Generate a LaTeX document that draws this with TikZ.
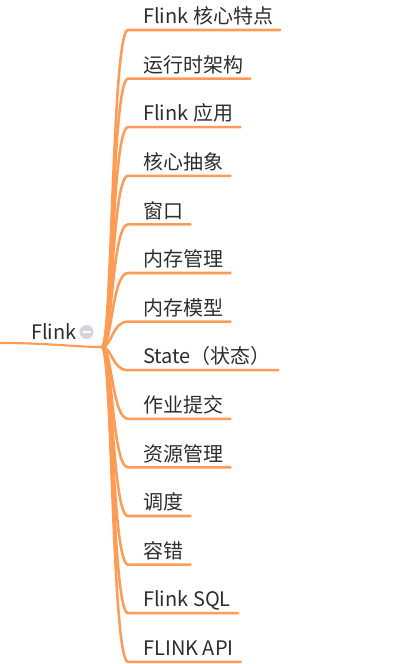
\documentclass[tikz,border=0pt]{standalone}
\usepackage{fontspec}
\setmainfont{Noto Sans CJK SC}
\definecolor{brc}{RGB}{255,155,85}
\definecolor{txt}{RGB}{45,45,45}
\definecolor{knob}{RGB}{212,212,220}
\begin{document}
\begin{tikzpicture}[x=0.75pt,y=-0.75pt,
  br/.style={draw=brc, line width=1.9pt, line cap=round},
  lbl/.style={anchor=south west, inner xsep=5.25pt, inner ysep=4.5pt, text depth=0pt,
    font=\fontsize{15}{18}\selectfont, text=txt},
]
\useasboundingbox (0,0) rectangle (400,664);
\coordinate (J) at (102,347);
\coordinate (L) at (0,343);
\node[anchor=base west, inner sep=0pt, text depth=0pt, font=\fontsize{15}{18}\selectfont, text=txt] (root) at (31,339) {Flink};
\node[circle, fill=knob, minimum size=10.5pt, inner sep=0pt] (col) at (86.5,332) {};
\draw[white, line width=1.8pt] ([xshift=-3pt]col.center) -- ([xshift=3pt]col.center);
\draw[br, line width=1.6pt] (L) .. controls (50,343) and (75,347) .. (J);
\foreach \i/\t in {0/{Flink 核心特点},1/{运行时架构},2/{Flink 应用},3/{核心抽象},4/{窗口},5/{内存管理},6/{内存模型},7/{State（状态）},8/{作业提交},9/{资源管理},10/{调度},11/{容错},12/{Flink SQL},13/{FLINK API}}{
  \node[lbl] (t\i) at (136,{30+\i*48.6}) {\t};
  \coordinate (e\i) at (128,{30+\i*48.6});
  \draw[br] (J) .. controls (112,347) and (112,{30+\i*48.6}) .. (e\i) -- (t\i.south west) -- (t\i.south east);
}
\end{tikzpicture}
\end{document}
